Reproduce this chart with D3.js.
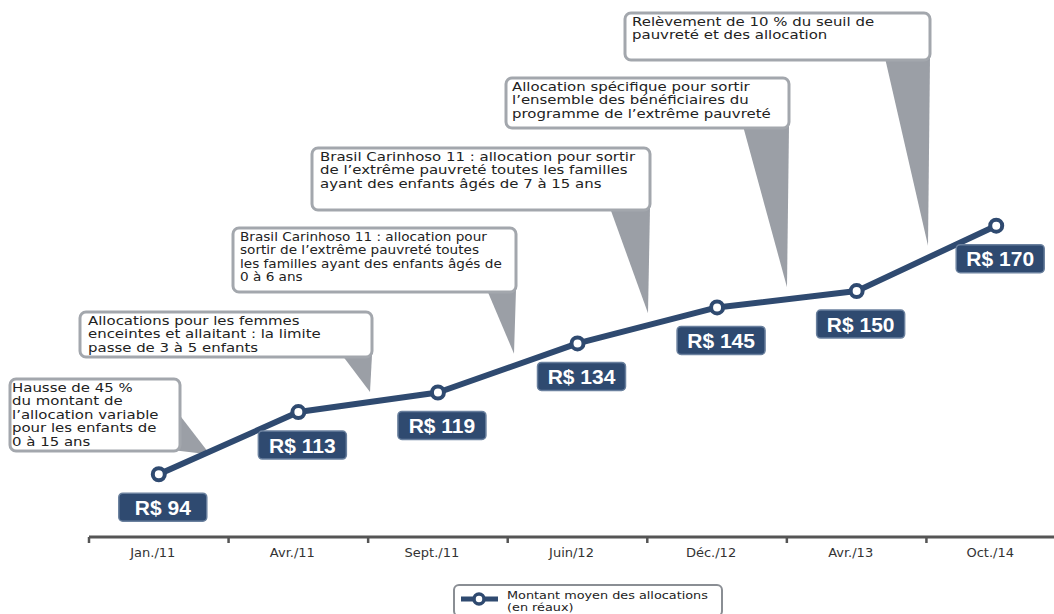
<!DOCTYPE html>
<html><head><meta charset="utf-8">
<script src="https://cdn.jsdelivr.net/npm/d3@7"></script>
<style>html,body{margin:0;padding:0;background:#fff;overflow:hidden}</style>
</head><body><svg id="c" width="1054" height="614"></svg>
<script>
// ---------- data ----------
const categories = ["Jan./11","Avr./11","Sept./11","Juin/12","Déc./12","Avr./13","Oct./14"];
const values = [94,113,119,134,145,150,170];
const valueLabels = values.map(v => "R$ " + v);
const noteTexts = [
  ["Hausse de 45 %","du montant de","l’allocation variable","pour les enfants de","0 à 15 ans"],
  ["Allocations pour les femmes","enceintes et allaitant : la limite","passe de 3 à 5 enfants"],
  ["Brasil Carinhoso 11 : allocation pour","sortir de l’extrême pauvreté toutes","les familles ayant des enfants âgés de","0 à 6 ans"],
  ["Brasil Carinhoso 11 : allocation pour sortir","de l’extrême pauvreté toutes les familles","ayant des enfants âgés de 7 à 15 ans"],
  ["Allocation spécifique pour sortir","l’ensemble des bénéficiaires du","programme de l’extrême pauvreté"],
  ["Relèvement de 10 % du seuil de","pauvreté et des allocation"]
];
const legendLines = ["Montant moyen des allocations","(en réaux)"];

// ---------- layout ----------
const W = 1054, H = 614;
const NAVY = "#2f4a70", GREY = "#9b9fa6", BORDER = "#a3a7ad";
const NOTE_FONT = "'DejaVu Sans', sans-serif";
const svg = d3.select("#c");
const x = d3.scaleBand().domain(categories).range([89, 1066]);
const y = d3.scaleLinear().domain([80, 180]).range([520, 193]);
const cx = c => x(c) + x.bandwidth() / 2;
const pts = categories.map((c, i) => [cx(c), y(values[i])]);
function lineY(px) {
  for (let i = 0; i < pts.length - 1; i++) {
    if (px >= pts[i][0] && px <= pts[i + 1][0]) {
      const t = (px - pts[i][0]) / (pts[i + 1][0] - pts[i][0]);
      return pts[i][1] + t * (pts[i + 1][1] - pts[i][1]);
    }
  }
  return pts[pts.length - 1][1];
}
// stretch a text horizontally so its widest line reaches target width
function fitWidth(textSel, x0, target) {
  const w = textSel.node().getBBox().width;
  const sx = Math.min(1.3, Math.max(0.8, target / w));
  textSel.attr("transform", `translate(${x0},0) scale(${sx.toFixed(3)},1) translate(${-x0},0)`);
}

const noteBoxes = [
  {x:10,  y:379, w:170, h:72, pad:2, tipX:210, gap:-3, base:[[168,400],[172,450]], target:153},
  {x:80,  y:312, w:292, h:45, pad:8, tipX:370, gap:10, tailW:30, target:236},
  {x:233, y:228, w:283, h:64, pad:7, tipX:514, gap:12, tailW:29, target:262},
  {x:312, y:148, w:338, h:62, pad:8, tipX:648, gap:12, tailW:40, target:318},
  {x:506, y:78,  w:283, h:50, pad:6, tipX:787, gap:12, tailW:46, target:268},
  {x:625, y:13,  w:305, h:47, pad:7, tipX:928, gap:12, tailW:45, target:247}
];
const FS = 11.5, LH = 13.4;

// tails
noteBoxes.forEach(b => {
  const tip = [b.tipX, lineY(b.tipX) - b.gap];
  const base = b.base || [[b.x + b.w - b.tailW, b.y + b.h - 2], [b.x + b.w, b.y + b.h - 2]];
  svg.append("polygon")
    .attr("points", [base[0], base[1], tip].map(p => p.join(",")).join(" "))
    .attr("fill", GREY);
});
// boxes
noteBoxes.forEach((b, i) => {
  svg.append("rect").attr("x", b.x).attr("y", b.y).attr("width", b.w).attr("height", b.h)
    .attr("rx", 6).attr("fill", "#fff").attr("stroke", BORDER).attr("stroke-width", 3);
  const t = svg.append("text").attr("font-family", NOTE_FONT)
    .attr("font-size", FS).attr("fill", "#222");
  noteTexts[i].forEach((ln, j) =>
    t.append("tspan").attr("x", b.x + b.pad).attr("y", b.y + 13 + j * LH).text(ln));
  fitWidth(t, b.x + b.pad, b.target);
});

// axis
const axisY = 537;
svg.append("line").attr("x1", x.range()[0]).attr("x2", W).attr("y1", axisY).attr("y2", axisY)
  .attr("stroke", "#555").attr("stroke-width", 3);
svg.selectAll(".tk").data(categories).enter().append("line")
  .attr("x1", d => x(d)).attr("x2", d => x(d)).attr("y1", axisY).attr("y2", axisY + 6)
  .attr("stroke", "#555").attr("stroke-width", 2.5);
svg.selectAll(".tl").data(categories).enter().append("text")
  .attr("x", d => cx(d) - 6).attr("y", 557).attr("text-anchor", "middle")
  .attr("font-family", NOTE_FONT).attr("font-size", 13).attr("fill", "#333")
  .text(d => d);

// line
svg.append("path").datum(values)
  .attr("d", d3.line().x((d, i) => cx(categories[i])).y(d => y(d)))
  .attr("fill", "none").attr("stroke", NAVY).attr("stroke-width", 6).attr("stroke-linejoin", "round");
svg.selectAll(".pt").data(values).enter().append("circle")
  .attr("cx", (d, i) => cx(categories[i])).attr("cy", d => y(d)).attr("r", 6)
  .attr("fill", "#fff").attr("stroke", NAVY).attr("stroke-width", 4);

// value labels
const lg = svg.selectAll(".vl").data(values).enter().append("g")
  .attr("transform", (d, i) => `translate(${cx(categories[i]) + 4},${y(d) + 33})`);
lg.append("rect").attr("x", -44).attr("y", -14).attr("width", 88).attr("height", 28).attr("rx", 4)
  .attr("fill", NAVY).attr("stroke", "#6a809e").attr("stroke-width", 1.5);
lg.append("text").attr("text-anchor", "middle").attr("y", 7.5)
  .attr("font-family", "'Liberation Sans', Arial, sans-serif").attr("font-weight", "bold")
  .attr("font-size", 21).attr("fill", "#fff").text((d, i) => valueLabels[i]);

// legend
const leg = svg.append("g");
leg.append("rect").attr("x", 454).attr("y", 585).attr("width", 268).attr("height", 31).attr("rx", 5)
  .attr("fill", "#fff").attr("stroke", "#8a8e94").attr("stroke-width", 2);
leg.append("line").attr("x1", 461).attr("x2", 498).attr("y1", 599).attr("y2", 599)
  .attr("stroke", NAVY).attr("stroke-width", 5);
leg.append("circle").attr("cx", 479).attr("cy", 599).attr("r", 5)
  .attr("fill", "#fff").attr("stroke", NAVY).attr("stroke-width", 3.5);
legendLines.forEach((l, j) => {
  const lt = leg.append("text").attr("font-family", NOTE_FONT)
    .attr("font-size", 10.2).attr("fill", "#222").attr("x", 507).attr("y", 599.5 + j * 11.9).text(l);
  if (j === 0) fitWidth(lt, 507, 201);
  else lt.attr("transform", leg.select("text").attr("transform"));
});
</script></body></html>
